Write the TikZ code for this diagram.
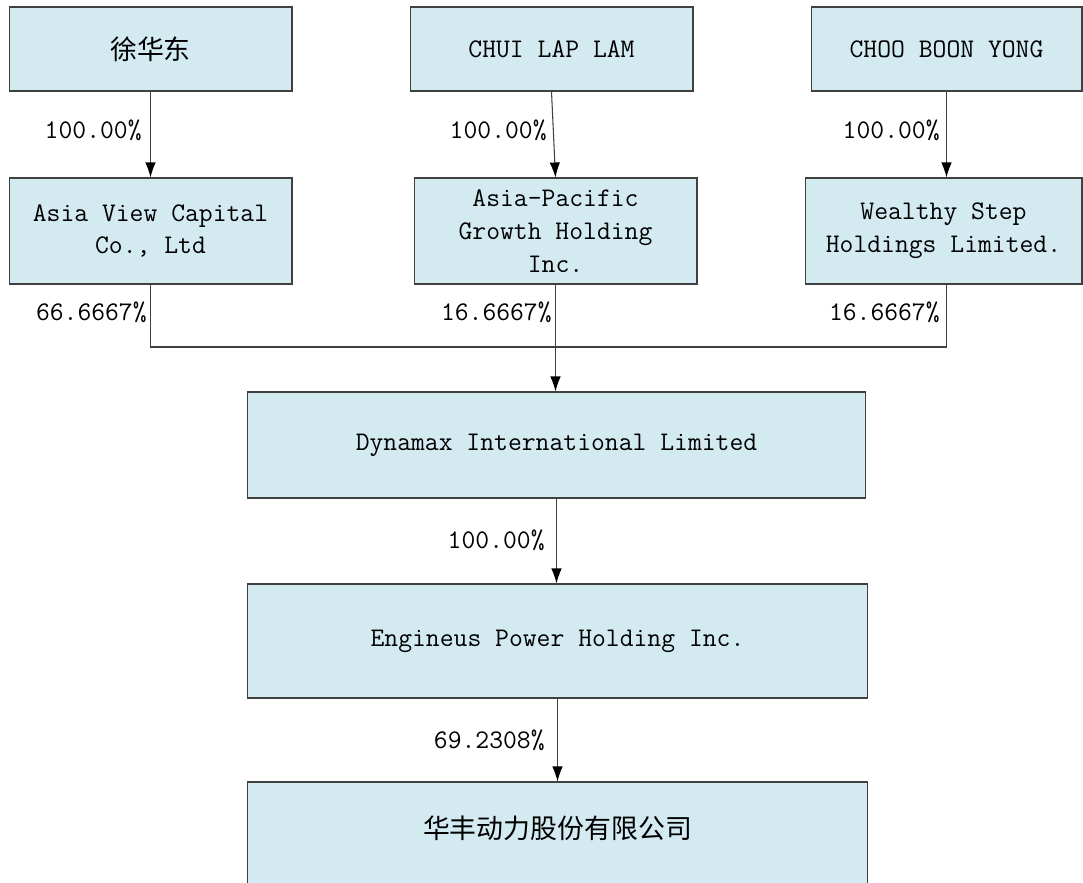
\documentclass[tikz,border=0pt]{standalone}
\usepackage{fontspec}
\newfontfamily\cjk{Noto Sans CJK SC}
\usetikzlibrary{arrows.meta}
\definecolor{boxblue}{RGB}{210,234,240}
\definecolor{edge}{RGB}{64,64,64}
\tikzset{
  holder/.style={draw=edge, fill=boxblue, line width=0.6pt, align=center, inner sep=0pt,
    font=\ttfamily\fontsize{15.3}{18.7}\selectfont},
  share/.style={anchor=east, inner sep=0pt, font=\ttfamily\fontsize{15.3}{16}\selectfont},
  link/.style={draw=edge, line width=0.6pt},
  own/.style={link, -{Latex[length=3mm,width=2.1mm,color=black]}}
}
\begin{document}
\begin{tikzpicture}[x=0.02cm, y=-0.02cm]
        \useasboundingbox (0, 0) rectangle (1083, 883);
        % node
        \node[holder, minimum width=5.66cm, minimum height=1.68cm] (xu) at (150.5, 49) {\cjk\fontsize{15.3}{18.7}\selectfont 徐华东};
        \node[holder, minimum width=5.66cm, minimum height=1.68cm] (chui) at (551.5, 49) {CHUI LAP LAM};
        \node[holder, minimum width=5.42cm, minimum height=1.68cm] (choo) at (946.5, 49) {CHOO BOON YONG};
        \node[holder, minimum width=5.66cm, minimum height=2.12cm] (avc) at (150.5, 231) {Asia View Capital\\Co., Ltd};
        \node[holder, minimum width=5.66cm, minimum height=2.12cm] (apg) at (555.5, 231) {Asia-Pacific\\Growth Holding\\Inc.};
        \node[holder, minimum width=5.54cm, minimum height=2.12cm] (wsh) at (943.5, 231) {Wealthy Step\\Holdings Limited.};
        \node[holder, minimum width=12.38cm, minimum height=2.12cm] (dyn) at (556.5, 445) {Dynamax International Limited};
        \node[holder, minimum width=12.42cm, minimum height=2.28cm] (eph) at (557.5, 641) {Engineus Power Holding Inc.};
        \node[holder, minimum width=12.42cm, minimum height=2.6cm] (hf) at (557.5, 847) {\raisebox{0.81cm}{\cjk\fontsize{15.3}{18.7}\selectfont 华丰动力股份有限公司}};
        % share labels
        \node[share] (s1) at (142, 130) {100.00\%};
        \node[share] (s2) at (547, 130) {100.00\%};
        \node[share] (s3) at (940, 130) {100.00\%};
        \node[share] (s4) at (147, 312) {66.6667\%};
        \node[share] (s5) at (552, 312) {16.6667\%};
        \node[share] (s6) at (940, 312) {16.6667\%};
        \node[share] (s7) at (545, 540) {100.00\%};
        \node[share] (s8) at (545, 740) {69.2308\%};
        % lines
        \coordinate (join) at (555, 347);
        \draw[own] (xu.south) -- (avc.north);
        \draw[own] (chui.south) -- (apg.north);
        \draw[own] (choo.south) -- (choo.south |- wsh.north);
        \draw[link] (avc.south) |- (join) -| (choo.south |- wsh.south);
        \draw[own] (apg.south) -- (apg.south |- dyn.north);
        \draw[own] (dyn.south) -- (dyn.south |- eph.north);
        \draw[own] (eph.south) -- (hf.north);
      \end{tikzpicture}
\end{document}
